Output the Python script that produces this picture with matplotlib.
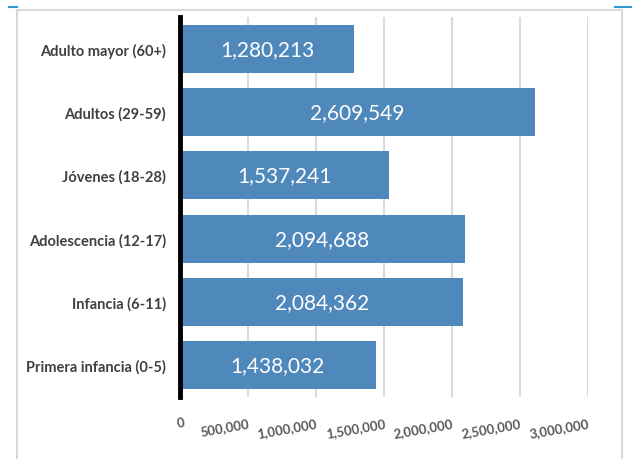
import matplotlib.pyplot as plt
from matplotlib.patches import Rectangle
from matplotlib.lines import Line2D
from matplotlib.ticker import FuncFormatter

# data
categorias = ["Adulto mayor (60+)", "Adultos (29-59)", "Jóvenes (18-28)",
              "Adolescencia (12-17)", "Infancia (6-11)", "Primera infancia (0-5)"]
poblacion = [1280213, 2609549, 1537241, 2094688, 2084362, 1438032]
ticks_x = [0, 500000, 1000000, 1500000, 2000000, 2500000, 3000000]

plt.rcParams['font.family'] = ['Lato', 'DejaVu Sans']

fig = plt.figure(figsize=(6.32, 4.60), dpi=100)

# outer frame and top blue line like the source sheet
fig.add_artist(Rectangle((17 / 632, -0.01), (622 - 17) / 632, (460 - 11) / 460 + 0.01,
                         transform=fig.transFigure, fill=False, edgecolor='#D9D9D9', lw=1.5))
fig.add_artist(Line2D([9 / 632, 17 / 632], [1 - 7.5 / 460] * 2, transform=fig.transFigure,
                      color='#2E9BD6', lw=1.5))
fig.add_artist(Line2D([615 / 632, 1.0], [1 - 7.5 / 460] * 2, transform=fig.transFigure,
                      color='#2E9BD6', lw=1.5))

ax = fig.add_axes([180 / 632, 1 - 398 / 460, (588 - 180) / 632, (398 - 18) / 460])

y = range(len(categorias))
bars = ax.barh(y, poblacion, height=0.76, color='#4F88BB', zorder=2)
ax.set_ylim(len(categorias) - 0.5, -0.5)
ax.set_xlim(0, 3000000)

for b, v in zip(bars, poblacion):
    ax.text(b.get_width() / 2, b.get_y() + b.get_height() / 2, f"{v:,}",
            ha='center', va='center', color='white', fontsize=15, zorder=3)

ax.set_yticks(list(y))
ax.set_yticklabels(categorias, fontsize=10.5, fontweight='bold', color='#404040')
ax.set_xticks(ticks_x)
ax.xaxis.set_major_formatter(FuncFormatter(lambda v, p: f"{int(v):,}"))
for i, lab in enumerate(ax.get_xticklabels()):
    lab.set_rotation(10)
    lab.set_rotation_mode('anchor')
    lab.set_ha('center' if i == 0 else 'right')
    lab.set_fontsize(9.5)
    lab.set_fontweight('bold')
    lab.set_color('#595959')
ax.tick_params(axis='both', length=0)
ax.tick_params(axis='x', pad=14)
ax.tick_params(axis='y', pad=10)

ax.grid(axis='x', color='#D9D9D9', lw=1.5, zorder=0)
for s in ['top', 'right', 'bottom']:
    ax.spines[s].set_visible(False)
ax.spines['left'].set_linewidth(3.5)
ax.spines['left'].set_color('black')
ax.spines['left'].set_zorder(4)

fig.savefig('out.png', dpi=100)
